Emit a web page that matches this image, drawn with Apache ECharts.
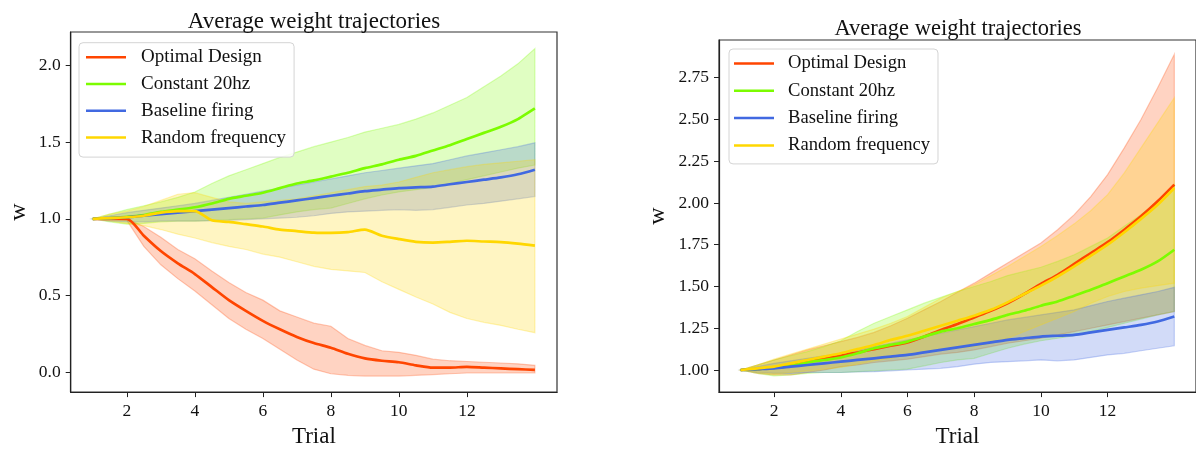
<!DOCTYPE html>
<html>
<head>
<meta charset="utf-8">
<title>Average weight trajectories</title>
<script src="https://cdn.jsdelivr.net/npm/echarts@6/dist/echarts.min.js"></script>
<style>
  html, body { margin: 0; padding: 0; background: #ffffff; }
  #chart { width: 1196px; height: 453px; }
</style>
</head>
<body>
<div id="chart"></div>
<script>
// Trial positions at which the averaged weights are sampled
const TRIALS = [1, 1.5, 2, 2.5, 3, 3.5, 4, 4.5, 5, 5.5, 6, 6.5, 7, 7.5, 8, 8.5, 9, 9.5, 10, 10.5, 11, 11.5, 12, 12.5, 13, 13.5, 14];

// Legend / series names
const NAMES = ['Optimal Design', 'Constant 20hz', 'Baseline firing', 'Random frequency'];

// Tick values
const X_TICKS = [2, 4, 6, 8, 10, 12];
const Y_TICKS_LEFT = [0, 0.5, 1.0, 1.5, 2.0];
const Y_TICKS_RIGHT = [1.0, 1.25, 1.5, 1.75, 2.0, 2.25, 2.5, 2.75];

// Left panel: optimal design (mean, upper, lower)
const OPT_L_MEAN = [1.0, 1.0, 1.0, 0.89, 0.79, 0.71, 0.64, 0.555, 0.47, 0.40, 0.335, 0.28, 0.23, 0.19, 0.16, 0.12, 0.09, 0.075, 0.065, 0.045, 0.03, 0.03, 0.035, 0.03, 0.025, 0.02, 0.015];
const OPT_L_HI   = [1.0, 1.0, 1.0, 0.95, 0.88, 0.80, 0.74, 0.66, 0.585, 0.52, 0.47, 0.40, 0.36, 0.32, 0.30, 0.22, 0.175, 0.14, 0.13, 0.11, 0.085, 0.075, 0.07, 0.065, 0.06, 0.055, 0.045];
const OPT_L_LO   = [1.0, 1.0, 0.99, 0.82, 0.70, 0.61, 0.53, 0.44, 0.35, 0.28, 0.22, 0.15, 0.08, 0.02, -0.01, -0.02, -0.025, -0.025, -0.025, -0.02, -0.015, -0.01, -0.005, -0.005, -0.005, -0.005, -0.005];

// Left panel: random frequency
const RAND_L_MEAN = [1.0, 1.005, 1.01, 1.02, 1.04, 1.05, 1.05, 0.99, 0.98, 0.965, 0.95, 0.93, 0.92, 0.91, 0.908, 0.913, 0.93, 0.89, 0.868, 0.85, 0.845, 0.85, 0.857, 0.852, 0.848, 0.838, 0.825];
const RAND_L_HI   = [1.0, 1.03, 1.05, 1.08, 1.12, 1.16, 1.17, 1.14, 1.11, 1.10, 1.11, 1.12, 1.13, 1.15, 1.17, 1.19, 1.21, 1.22, 1.24, 1.27, 1.30, 1.32, 1.34, 1.355, 1.365, 1.375, 1.385];
const RAND_L_LO   = [1.0, 0.985, 0.97, 0.955, 0.93, 0.90, 0.875, 0.845, 0.82, 0.80, 0.77, 0.75, 0.72, 0.69, 0.67, 0.66, 0.65, 0.59, 0.54, 0.49, 0.445, 0.39, 0.35, 0.325, 0.305, 0.28, 0.258];

// Both panels: constant 20hz stimulation
const CONST_MEAN = [1.0, 1.005, 1.012, 1.025, 1.045, 1.06, 1.075, 1.10, 1.13, 1.15, 1.17, 1.2, 1.23, 1.25, 1.275, 1.30, 1.33, 1.355, 1.385, 1.41, 1.445, 1.48, 1.52, 1.56, 1.60, 1.65, 1.72];
const CONST_HI   = [1.0, 1.03, 1.06, 1.085, 1.11, 1.14, 1.175, 1.23, 1.28, 1.32, 1.36, 1.40, 1.435, 1.47, 1.50, 1.53, 1.565, 1.59, 1.615, 1.65, 1.69, 1.74, 1.79, 1.86, 1.93, 2.01, 2.11];
const CONST_LO   = [1.0, 0.98, 0.965, 0.97, 0.98, 0.985, 0.985, 0.99, 0.995, 1.0, 1.005, 1.025, 1.045, 1.06, 1.07, 1.10, 1.13, 1.155, 1.175, 1.19, 1.205, 1.23, 1.255, 1.28, 1.305, 1.33, 1.35];

// Both panels: baseline firing
const BASE_MEAN = [1.0, 1.005, 1.01, 1.02, 1.03, 1.04, 1.05, 1.06, 1.07, 1.08, 1.09, 1.105, 1.12, 1.135, 1.15, 1.165, 1.18, 1.19, 1.20, 1.205, 1.21, 1.225, 1.24, 1.255, 1.27, 1.29, 1.32];
const BASE_HI   = [1.0, 1.02, 1.04, 1.055, 1.07, 1.085, 1.10, 1.12, 1.14, 1.16, 1.18, 1.20, 1.22, 1.24, 1.26, 1.28, 1.30, 1.315, 1.33, 1.345, 1.36, 1.385, 1.41, 1.43, 1.45, 1.47, 1.495];
const BASE_LO   = [1.0, 0.985, 0.98, 0.98, 0.985, 0.985, 0.985, 0.988, 0.99, 0.995, 1.0, 1.005, 1.01, 1.02, 1.035, 1.045, 1.05, 1.055, 1.06, 1.055, 1.06, 1.075, 1.09, 1.10, 1.115, 1.13, 1.145];

// Right panel: optimal design
const OPT_R_MEAN = [1.0, 1.005, 1.015, 1.035, 1.055, 1.07, 1.085, 1.105, 1.125, 1.145, 1.165, 1.2, 1.24, 1.275, 1.315, 1.355, 1.40, 1.455, 1.515, 1.57, 1.635, 1.70, 1.765, 1.84, 1.92, 2.01, 2.11];
const OPT_R_HI   = [1.0, 1.03, 1.06, 1.09, 1.12, 1.145, 1.17, 1.195, 1.225, 1.265, 1.31, 1.36, 1.41, 1.465, 1.52, 1.58, 1.64, 1.70, 1.76, 1.84, 1.93, 2.04, 2.17, 2.33, 2.50, 2.69, 2.89];
const OPT_R_LO   = [1.0, 0.98, 0.97, 0.97, 0.985, 1.0, 1.02, 1.03, 1.045, 1.055, 1.065, 1.08, 1.095, 1.105, 1.12, 1.14, 1.16, 1.175, 1.19, 1.21, 1.23, 1.25, 1.27, 1.29, 1.31, 1.33, 1.35];

// Right panel: random frequency
const RAND_R_MEAN = [1.0, 1.01, 1.02, 1.04, 1.06, 1.08, 1.10, 1.125, 1.15, 1.18, 1.205, 1.235, 1.265, 1.295, 1.325, 1.36, 1.405, 1.455, 1.505, 1.56, 1.62, 1.685, 1.75, 1.825, 1.905, 1.99, 2.09];
const RAND_R_HI   = [1.0, 1.03, 1.065, 1.095, 1.125, 1.155, 1.185, 1.215, 1.245, 1.28, 1.32, 1.375, 1.43, 1.47, 1.51, 1.565, 1.62, 1.68, 1.74, 1.805, 1.875, 1.955, 2.05, 2.18, 2.33, 2.48, 2.63];
const RAND_R_LO   = [1.0, 0.985, 0.975, 0.985, 0.995, 1.005, 1.015, 1.035, 1.055, 1.07, 1.09, 1.105, 1.12, 1.13, 1.14, 1.16, 1.19, 1.23, 1.27, 1.31, 1.35, 1.40, 1.44, 1.47, 1.49, 1.505, 1.52];

const COLORS = ['#ff4500', '#7cfc00', '#4169e1', '#ffd700'];
const SERIF = "'Liberation Serif', 'DejaVu Serif', 'Times New Roman', serif";

function rgba(hex, a) {
  const n = parseInt(hex.slice(1), 16);
  return 'rgba(' + ((n >> 16) & 255) + ',' + ((n >> 8) & 255) + ',' + (n & 255) + ',' + a + ')';
}

// Shaded spread between lower and upper curves, drawn as one polygon in axis coordinates
function band(label, color, lo, hi, idx) {
  return {
    type: 'custom',
    name: label,
    xAxisIndex: idx,
    yAxisIndex: idx,
    silent: true,
    clip: true,
    z: 1,
    data: [[TRIALS[0], lo[0]]],
    renderItem: function (params, api) {
      const pts = [];
      for (let i = 0; i < TRIALS.length; i++) pts.push(api.coord([TRIALS[i], hi[i]]));
      for (let i = TRIALS.length - 1; i >= 0; i--) pts.push(api.coord([TRIALS[i], lo[i]]));
      return {
        type: 'polygon',
        shape: { points: pts },
        style: { fill: rgba(color, 0.24), stroke: rgba(color, 0.28), lineWidth: 1.2 }
      };
    }
  };
}

function line(name, color, mean, idx) {
  return {
    type: 'line',
    name: name,
    xAxisIndex: idx,
    yAxisIndex: idx,
    data: TRIALS.map((t, i) => [t, mean[i]]),
    showSymbol: false,
    symbol: 'none',
    smooth: 0.25,
    z: 3,
    lineStyle: { color: color, width: 2.7 },
    itemStyle: { color: color }
  };
}

function xAxis(idx) {
  return {
    type: 'value', gridIndex: idx, min: 0.35, max: 14.65,
    name: 'Trial', nameLocation: 'middle', nameGap: 31,
    nameTextStyle: { fontFamily: SERIF, fontSize: 23, color: '#111' },
    splitLine: { show: false },
    axisLine: { show: true, onZero: false, lineStyle: { color: '#222', width: 1.2 } },
    axisTick: { show: true, length: 5, customValues: X_TICKS, lineStyle: { color: '#222', width: 1 } },
    axisLabel: { customValues: X_TICKS, margin: 10, fontFamily: SERIF, fontSize: 17.5, color: '#111' }
  };
}

function yAxis(idx, min, max, ticks, digits, gap) {
  return {
    type: 'value', gridIndex: idx, min: min, max: max,
    name: 'w', nameLocation: 'middle', nameGap: gap,
    nameTextStyle: { fontFamily: SERIF, fontSize: 24, color: '#111' },
    splitLine: { show: false },
    axisLine: { show: true, onZero: false, lineStyle: { color: '#222', width: 1.2 } },
    axisTick: { show: true, length: 5, customValues: ticks, lineStyle: { color: '#222', width: 1 } },
    axisLabel: {
      customValues: ticks, margin: 10, fontFamily: SERIF, fontSize: 17.5, color: '#111',
      formatter: v => v.toFixed(digits)
    }
  };
}

function legend(left, top, fontSize, gap, pad, textPad) {
  return {
    orient: 'vertical', left: left, top: top,
    data: NAMES,
    icon: 'rect', itemWidth: 40, itemHeight: 2.5, itemGap: gap,
    padding: pad,
    backgroundColor: 'rgba(255,255,255,0.85)',
    borderColor: '#d4d4d4', borderWidth: 1, borderRadius: 4,
    selectedMode: false,
    textStyle: { fontFamily: SERIF, fontSize: fontSize, lineHeight: fontSize, color: '#111', padding: [0, 0, 0, textPad] }
  };
}

const chart = echarts.init(document.getElementById('chart'), null, { renderer: 'canvas' });

chart.setOption({
  animation: false,
  backgroundColor: '#ffffff',
  title: [
    { text: 'Average weight trajectories', left: 309, top: 5, textAlign: 'center',
      textStyle: { fontFamily: SERIF, fontSize: 23, fontWeight: 'normal', color: '#111' } },
    { text: 'Average weight trajectories', left: 953, top: 12.5, textAlign: 'center',
      textStyle: { fontFamily: SERIF, fontSize: 22.5, fontWeight: 'normal', color: '#111' } }
  ],
  legend: [
    legend(79, 42.7, 19, 7.8, [5, 8, 10, 7], 10),
    legend(729, 49, 18.6, 8.3, [5, 8, 9, 5], 9)
  ],
  grid: [
    { left: 70.7, top: 32, width: 486.3, height: 363.7, show: true, borderColor: '#333', borderWidth: 1.2, backgroundColor: 'transparent' },
    { left: 719, top: 40, width: 478.7, height: 356.7, show: true, borderColor: '#333', borderWidth: 1.2, backgroundColor: 'transparent' }
  ],
  xAxis: [xAxis(0), xAxis(1)],
  yAxis: [
    yAxis(0, -0.1295, 2.2175, Y_TICKS_LEFT, 1, 40),
    yAxis(1, 0.8676, 2.9758, Y_TICKS_RIGHT, 2, 49)
  ],
  series: [
    band('Optimal Design spread', COLORS[0], OPT_L_LO, OPT_L_HI, 0),
    band('Constant 20hz spread', COLORS[1], CONST_LO, CONST_HI, 0),
    band('Baseline firing spread', COLORS[2], BASE_LO, BASE_HI, 0),
    band('Random frequency spread', COLORS[3], RAND_L_LO, RAND_L_HI, 0),
    line(NAMES[0], COLORS[0], OPT_L_MEAN, 0),
    line(NAMES[1], COLORS[1], CONST_MEAN, 0),
    line(NAMES[2], COLORS[2], BASE_MEAN, 0),
    line(NAMES[3], COLORS[3], RAND_L_MEAN, 0),

    band('Optimal Design spread', COLORS[0], OPT_R_LO, OPT_R_HI, 1),
    band('Constant 20hz spread', COLORS[1], CONST_LO, CONST_HI, 1),
    band('Baseline firing spread', COLORS[2], BASE_LO, BASE_HI, 1),
    band('Random frequency spread', COLORS[3], RAND_R_LO, RAND_R_HI, 1),
    line(NAMES[0], COLORS[0], OPT_R_MEAN, 1),
    line(NAMES[1], COLORS[1], CONST_MEAN, 1),
    line(NAMES[2], COLORS[2], BASE_MEAN, 1),
    line(NAMES[3], COLORS[3], RAND_R_MEAN, 1)
  ]
});
</script>
</body>
</html>
